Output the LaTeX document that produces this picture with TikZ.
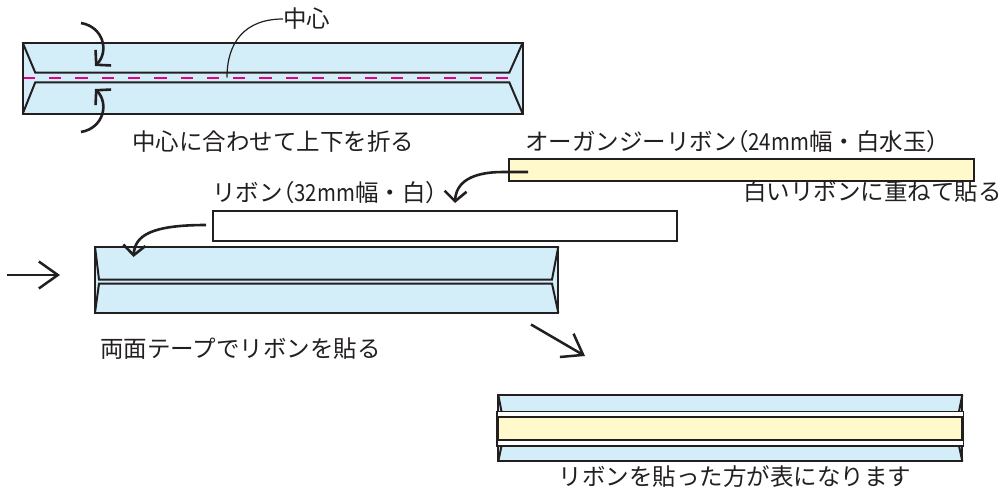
\documentclass[tikz,border=0pt]{standalone}
\usepackage{fontspec}
\setmainfont{Noto Sans CJK JP}
\newfontfamily\pfont[RawFeature=+palt]{Noto Sans CJK JP}
\newfontfamily\latn[FakeStretch=0.87]{Noto Sans CJK JP}
\newcommand{\lp}{{\pfont （}}
\usetikzlibrary{arrows.meta}
\definecolor{ink}{HTML}{231F20}
\definecolor{paleblue}{HTML}{D3EEF9}
\definecolor{paleyellow}{HTML}{FFF9CB}
\definecolor{pinkline}{HTML}{E4007F}
\tikzset{
  edge/.style={draw=ink, line width=2pt, line join=miter},
  bigarrow/.style={draw=ink, line width=2.5pt, -{Straight Barb[length=19pt,width=27pt]}},
  curvearrow/.style={draw=ink, line width=2.6pt, -{Straight Barb[length=10pt,width=22pt]}},
  lbl/.style={inner sep=0pt, font=\fontsize{23.5pt}{28pt}\selectfont, text=ink},
}
\begin{document}
\begin{tikzpicture}[x=1pt,y=-1pt]
\useasboundingbox (0,0) rectangle (1004,493);

% ---- top panel
\fill[paleblue] (22.7,42.7) rectangle (522.7,113.7);
\draw[edge] (22.7,42.7) -- (35.3,72.7) -- (509.3,72.7) -- (522.7,42.7);
\draw[edge] (22.7,113.7) -- (35.3,82.3) -- (509.3,82.3) -- (522.7,113.7);
\draw[draw=pinkline, line width=2pt, dash pattern=on 12.3pt off 14pt] (22.7,77.5) -- (522.7,77.5);
\draw[edge] (22.7,42.7) rectangle (522.7,113.7);

\node[lbl, anchor=west] (ctrlbl) at (283,19) {中心};
\coordinate (cpt) at (227,77.5);
\draw[ink, line width=1.2pt] (ctrlbl.west) .. controls (245,19) and (227,42) .. (cpt);

\coordinate (fa1s) at (81,23);
\coordinate (fa1e) at (95,66);
\draw[curvearrow] (fa1s) .. controls (104,27) and (109,52) .. (fa1e);
\coordinate (fa2s) at (81,132);
\coordinate (fa2e) at (95,89);
\draw[curvearrow] (fa2s) .. controls (104,128) and (109,103) .. (fa2e);

\node[lbl, anchor=west] (cap1) at (132,141.7) {中心に合わせて上下を折る};

% ---- middle panel
\fill[paleblue] (95,246.7) rectangle (558.3,312.7);
\draw[edge] (95,246.7) -- (99,279.5) -- (552,279.5) -- (558.3,246.7);
\draw[edge] (95,312.7) -- (99,283.6) -- (552,283.6) -- (558.3,312.7);
\draw[edge] (95,246.7) rectangle (558.3,312.7);
\node[lbl, anchor=west] (cap3) at (100,349) {両面テープでリボンを貼る};

% ---- ribbons
\node[lbl, anchor=west] (orgLbl) at (525,141.7) {オーガンジーリボン\lp{\latn 24mm}幅・白水玉）};
\draw[edge, fill=paleyellow] (509,159.3) rectangle (974,180.8);
\node[lbl, anchor=east] (whiteOn) at (1002,192) {白いリボンに重ねて貼る};
\coordinate (ya) at (528,172);
\coordinate (yb) at (455,203);
\draw[curvearrow] (ya) -- (503,172) .. controls (472,172) and (456,182) .. (yb);

\node[lbl, anchor=west] (rbnLbl) at (212,192.5) {リボン\lp{\latn 32mm}幅・白）};
\draw[edge, fill=white] (212.7,210.7) rectangle (677.3,240.7);
\coordinate (wa) at (206,225);
\coordinate (wb) at (133.5,257);
\draw[curvearrow] (wa) .. controls (150,225) and (135,236) .. (wb);

\coordinate (la) at (7,275);
\coordinate (lb) at (60,275);
\draw[bigarrow] (la) -- (lb);

\coordinate (da) at (531,324.5);
\coordinate (db) at (585,356);
\draw[bigarrow] (da) -- (db);

% ---- bottom panel
\fill[paleblue] (498.3,395) rectangle (962.3,461);
\draw[edge] (498.3,395) rectangle (962.3,461);
\draw[edge] (498.3,395) -- (501.5,411.5);
\draw[edge] (962.3,395) -- (959,411.5);
\draw[edge] (498.3,461) -- (501.5,446);
\draw[edge] (962.3,461) -- (959,446);
\draw[draw=ink, line width=1.4pt, fill=white] (497,411.5) rectangle (963.6,446);
\draw[edge, fill=paleyellow] (498.3,417.3) rectangle (962.3,439.8);
\node[lbl] (cap4) at (735,477) {リボンを貼った方が表になります};
\end{tikzpicture}
\end{document}
